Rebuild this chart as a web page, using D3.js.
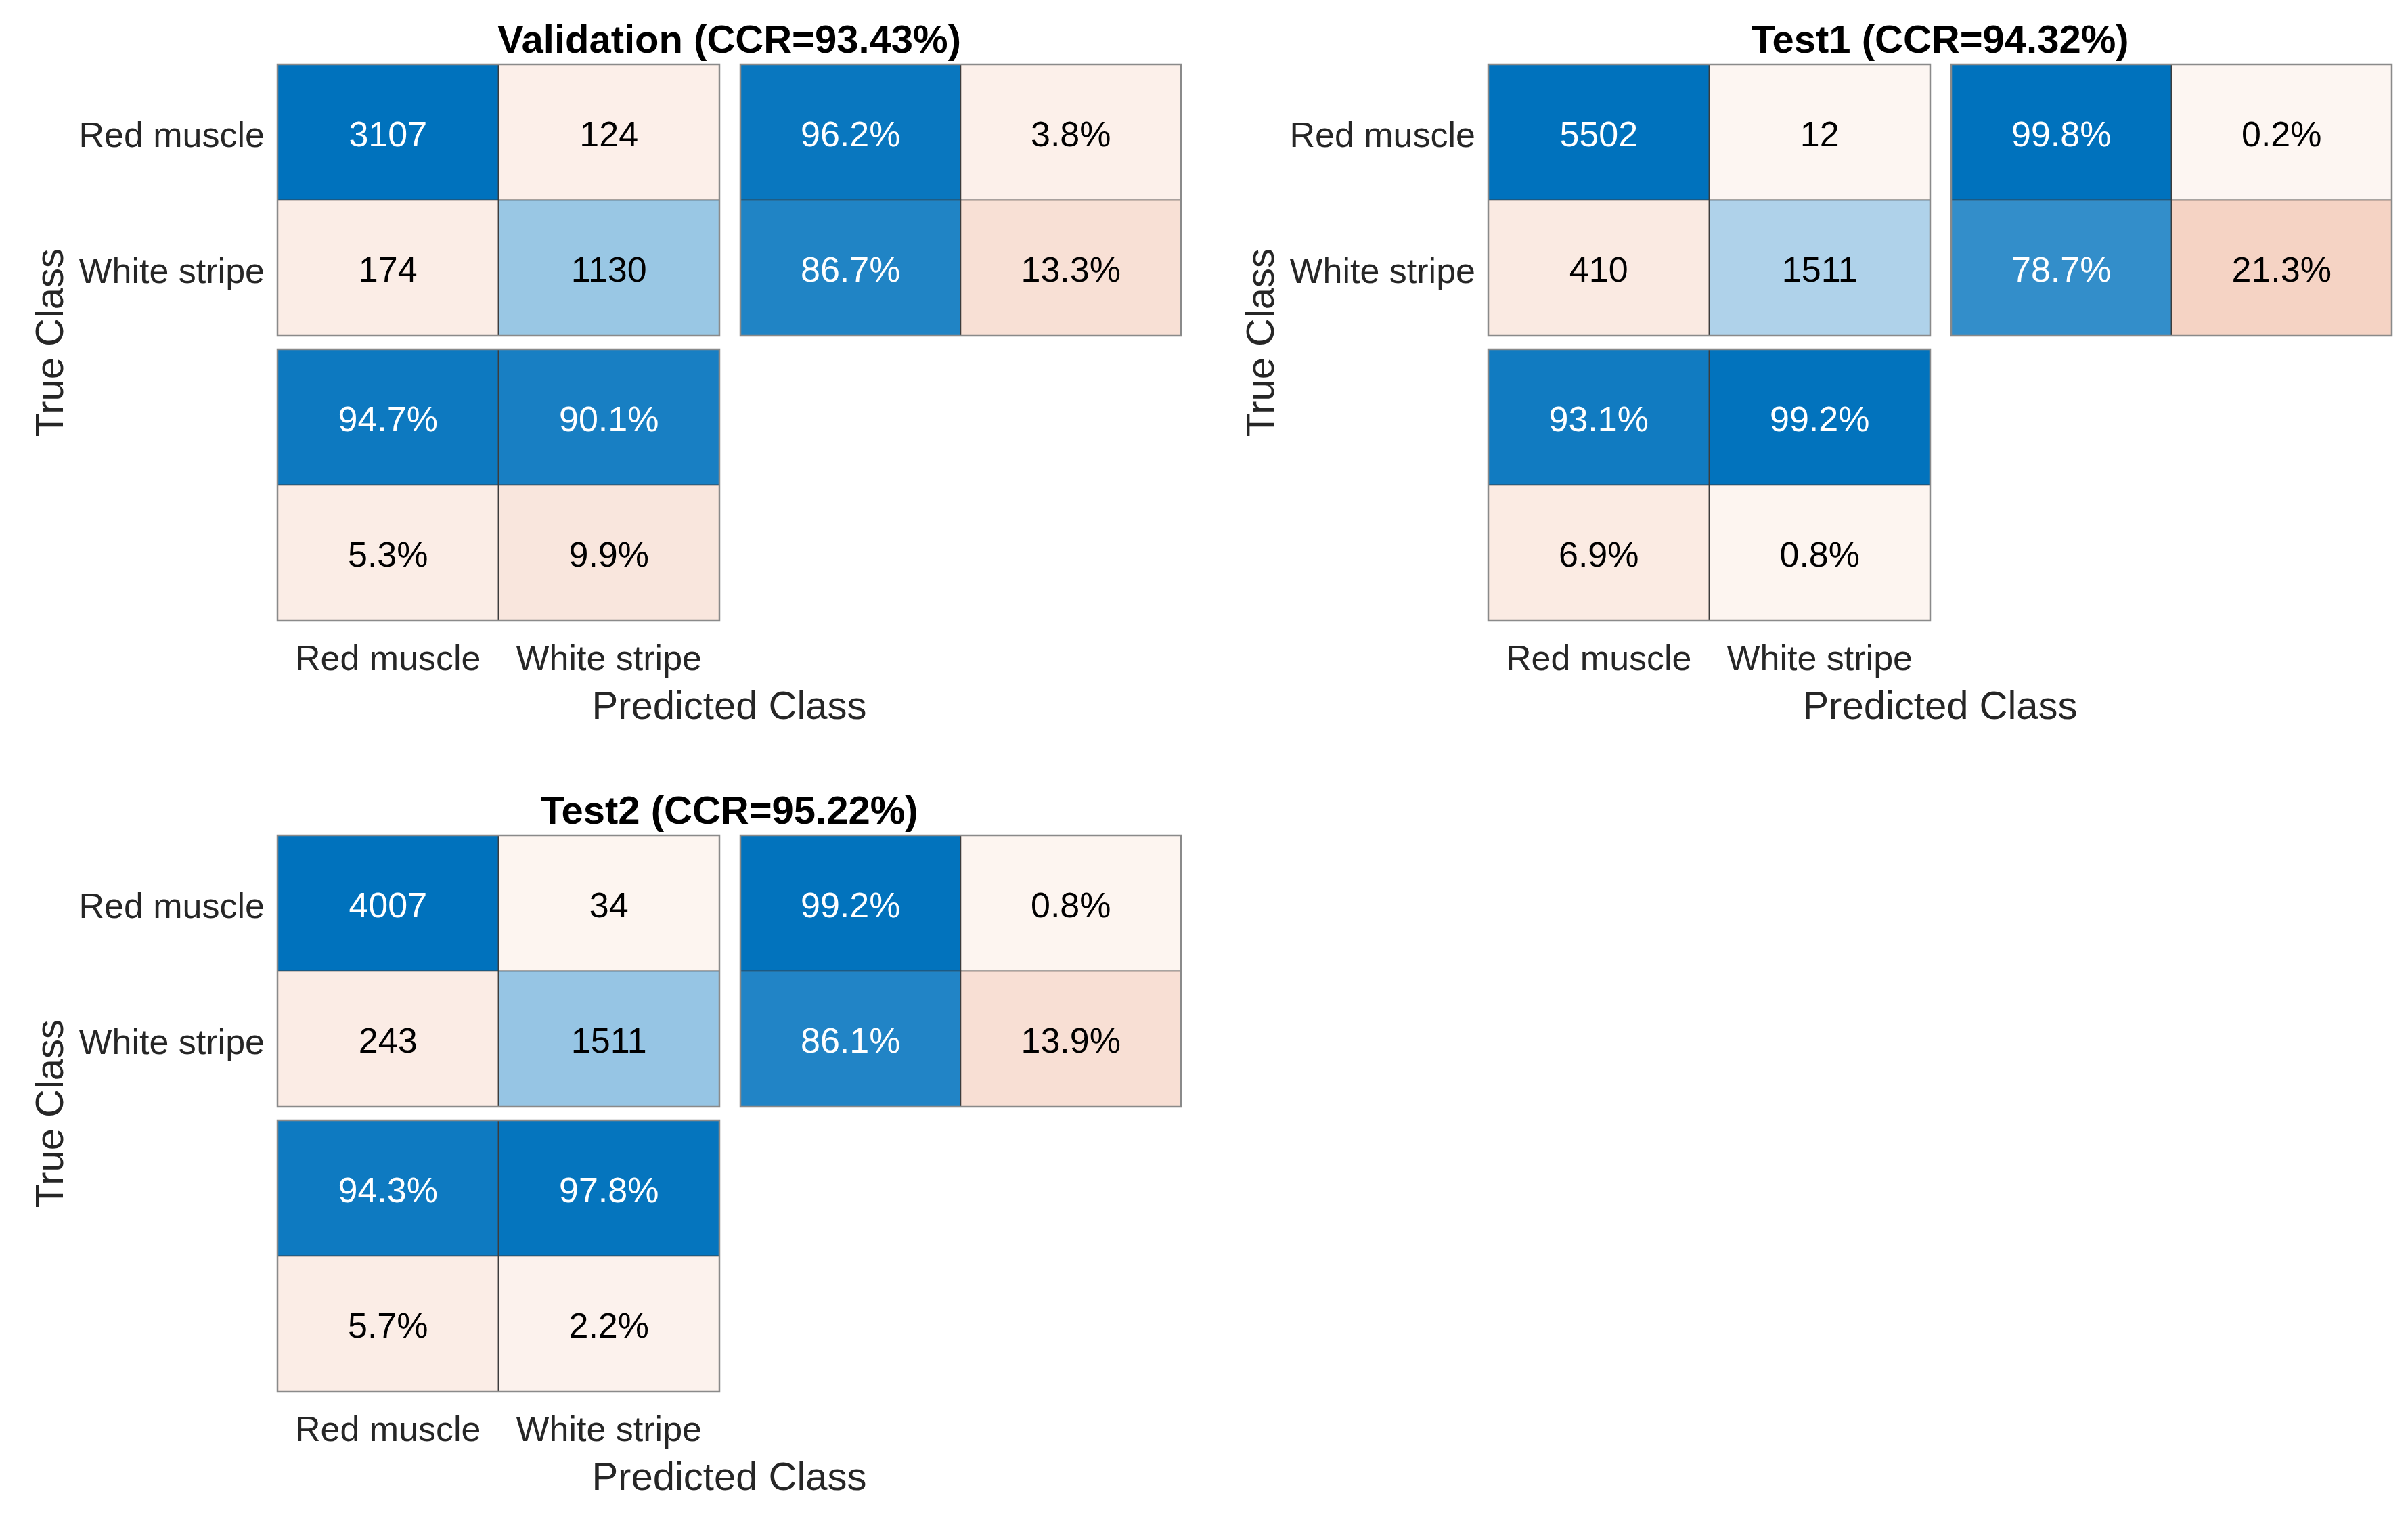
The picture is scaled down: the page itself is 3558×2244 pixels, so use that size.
<!DOCTYPE html>
<html>
<head>
<meta charset="utf-8">
<script src="https://cdn.jsdelivr.net/npm/d3@7"></script>
<style>
  body { margin: 0; background: #fff; }
  text { font-family: "Liberation Sans", Arial, Helvetica, sans-serif; }
</style>
</head>
<body>
<div id="chart"></div>
<script>
// ---- data ----
var classes = ["Red muscle", "White stripe"];

var titles = ["Validation (CCR=93.43%)", "Test1 (CCR=94.32%)", "Test2 (CCR=95.22%)"];

// confusion counts, rows = true class, cols = predicted class
var validationCounts = [[3107, 124], [174, 1130]];
var test1Counts      = [[5502, 12],  [410, 1511]];
var test2Counts      = [[4007, 34],  [243, 1511]];

// row summary (percent of true class)
var validationRowPct = [[96.2, 3.8], [86.7, 13.3]];
var test1RowPct      = [[99.8, 0.2], [78.7, 21.3]];
var test2RowPct      = [[99.2, 0.8], [86.1, 13.9]];

// column summary (percent of predicted class), row 0 = correct, row 1 = wrong
var validationColPct = [[94.7, 90.1], [5.3, 9.9]];
var test1ColPct      = [[93.1, 99.2], [6.9, 0.8]];
var test2ColPct      = [[94.3, 97.8], [5.7, 2.2]];

var panels = [
  {title: titles[0], counts: validationCounts, rowPct: validationRowPct, colPct: validationColPct, dx: 0,    dy: 0},
  {title: titles[1], counts: test1Counts,      rowPct: test1RowPct,      colPct: test1ColPct,      dx: 1789, dy: 0},
  {title: titles[2], counts: test2Counts,      rowPct: test2RowPct,      colPct: test2ColPct,      dx: 0,    dy: 1139}
];

var W = 3558, H = 2244;

var svg = d3.select("#chart").append("svg")
    .attr("width", W)
    .attr("height", H);

svg.append("rect").attr("width", W).attr("height", H).attr("fill", "#fff");

// colour ramps (MATLAB confusionchart style)
var blue = d3.scaleLinear().domain([0, 1]).range(["#F1F7FB", "#0072BD"]);
var orange = d3.scaleLinear().domain([0, 1]).range(["#FDF6F2", "#D95319"]);

// layout of one panel (local coords)
var x = d3.scaleBand().domain(classes).range([410, 1063]);
var y = d3.scaleBand().domain(classes).range([95, 496]);
var xr = d3.scaleBand().domain([0, 1]).range([1094, 1745]);
var yc = d3.scaleBand().domain([0, 1]).range([516, 917]);

function textColor(c) {
  return d3.lab(c).l < 62 ? "#fff" : "#000";
}

function drawBlock(g, cells, xs, ys) {
  var cg = g.append("g");
  cg.selectAll("rect").data(cells).enter().append("rect")
    .attr("x", function(d) { return xs(d.c); })
    .attr("y", function(d) { return ys(d.r); })
    .attr("width", xs.bandwidth())
    .attr("height", ys.bandwidth())
    .attr("fill", function(d) { return d.fill; })
    .attr("stroke", "#3c3c3c")
    .attr("stroke-width", 1.5);

  cg.append("rect")
    .attr("x", xs.range()[0])
    .attr("y", ys.range()[0])
    .attr("width", xs.range()[1] - xs.range()[0])
    .attr("height", ys.range()[1] - ys.range()[0])
    .attr("fill", "none")
    .attr("stroke", "#8a8a8a")
    .attr("stroke-width", 2.5);

  cg.selectAll("text").data(cells).enter().append("text")
    .attr("x", function(d) { return xs(d.c) + xs.bandwidth() / 2; })
    .attr("y", function(d) { return ys(d.r) + ys.bandwidth() / 2; })
    .attr("dy", "0.39em")
    .attr("text-anchor", "middle")
    .attr("font-size", 52)
    .attr("fill", function(d) { return textColor(d.fill); })
    .text(function(d) { return d.label; });
}

panels.forEach(function(p) {
  var g = svg.append("g").attr("transform", "translate(" + p.dx + "," + p.dy + ")");
  var maxCount = d3.max(p.counts, function(r) { return d3.max(r); });

  // main matrix
  var mCells = [];
  p.counts.forEach(function(row, i) {
    row.forEach(function(v, j) {
      var s = i === j ? blue : orange;
      mCells.push({r: classes[i], c: classes[j], label: String(v), fill: s(v / maxCount)});
    });
  });
  drawBlock(g, mCells, x, y);

  // row summary
  var rCells = [];
  p.rowPct.forEach(function(row, i) {
    row.forEach(function(v, j) {
      var s = j === 0 ? blue : orange;
      rCells.push({r: classes[i], c: j, label: v.toFixed(1) + "%", fill: s(v / 100)});
    });
  });
  drawBlock(g, rCells, xr, y);

  // column summary
  var cCells = [];
  p.colPct.forEach(function(row, i) {
    row.forEach(function(v, j) {
      var s = i === 0 ? blue : orange;
      cCells.push({r: i, c: classes[j], label: v.toFixed(1) + "%", fill: s(v / 100)});
    });
  });
  drawBlock(g, cCells, x, yc);

  // axes (tick labels only)
  var ax = g.append("g")
    .attr("transform", "translate(410,0)")
    .call(d3.axisLeft(y).tickSize(0).tickPadding(19));
  ax.select(".domain").remove();
  ax.selectAll("text").attr("font-size", 52).attr("fill", "#262626").attr("dy", "0.42em")
    .attr("font-family", "'Liberation Sans', Arial, sans-serif");

  var bx = g.append("g")
    .attr("transform", "translate(0,917)")
    .call(d3.axisBottom(x).tickSize(0).tickPadding(36));
  bx.select(".domain").remove();
  bx.selectAll("text").attr("font-size", 52).attr("fill", "#262626")
    .attr("font-family", "'Liberation Sans', Arial, sans-serif");

  // labels
  g.append("text")
    .attr("x", 1077.5).attr("y", 78)
    .attr("text-anchor", "middle")
    .attr("font-size", 58)
    .attr("font-weight", "bold")
    .attr("fill", "#000")
    .text(p.title);

  g.append("text")
    .attr("x", 1077.5).attr("y", 1062)
    .attr("text-anchor", "middle")
    .attr("font-size", 58)
    .attr("fill", "#262626")
    .text("Predicted Class");

  g.append("text")
    .attr("transform", "translate(93,506) rotate(-90)")
    .attr("text-anchor", "middle")
    .attr("font-size", 58)
    .attr("fill", "#262626")
    .text("True Class");
});
</script>
</body>
</html>
